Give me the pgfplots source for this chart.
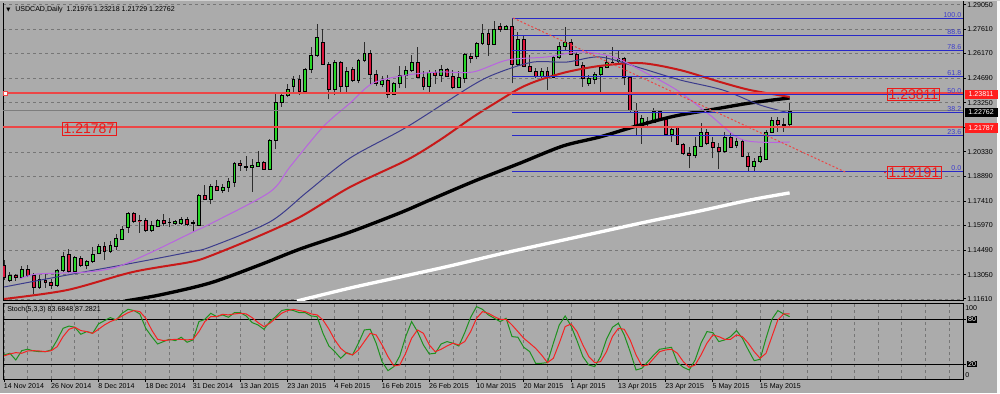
\documentclass[border=0pt]{standalone}
\usepackage{pgfplots}
\usepackage{pgfplotstable}
\pgfplotsset{compat=1.18}
\usepackage{fontspec}
\setmainfont{Liberation Sans}
\newfontfamily\symfont{DejaVu Sans}
\newcommand\sm{\fontsize{5.3}{6.4}\selectfont}
\newcommand\blk[1]{{\setlength{\fboxsep}{0.6pt}\colorbox{black}{\textcolor{white}{#1}}}}

\definecolor{bg}{RGB}{171,171,171}
\definecolor{gridc}{RGB}{118,118,118}
\definecolor{bull}{RGB}{40,215,40}
\definecolor{bear}{RGB}{220,20,60}
\definecolor{wick}{RGB}{45,45,45}
\definecolor{maRed}{RGB}{200,25,25}
\definecolor{maBlue}{RGB}{60,60,140}
\definecolor{maViolet}{RGB}{185,100,225}
\definecolor{hline}{RGB}{236,70,70}
\definecolor{fib}{RGB}{40,40,200}
\definecolor{fibtxt}{RGB}{60,60,205}
\definecolor{boxred}{RGB}{235,25,25}
\definecolor{lblred}{RGB}{255,30,30}
\definecolor{stK}{RGB}{30,145,30}
\definecolor{stD}{RGB}{245,35,35}
\definecolor{bidline}{RGB}{125,125,125}

\pgfplotstableread{
i o h l c
0 1.1362 1.1392 1.1273 1.1287
1 1.1273 1.1322 1.1263 1.1303
2 1.1303 1.1312 1.1269 1.1289
3 1.1289 1.1356 1.1283 1.1338
4 1.1338 1.1362 1.1289 1.1299
5 1.1303 1.1316 1.1190 1.1229
6 1.1229 1.1303 1.1223 1.1277
7 1.1273 1.1312 1.1229 1.1257
8 1.1257 1.1277 1.1223 1.1243
9 1.1243 1.1336 1.1233 1.1328
10 1.1328 1.1441 1.1322 1.1411
11 1.1425 1.1457 1.1316 1.1322
12 1.1322 1.1415 1.1316 1.1406
13 1.1402 1.1415 1.1352 1.1358
14 1.1358 1.1392 1.1336 1.1382
15 1.1382 1.1471 1.1376 1.1425
16 1.1431 1.1487 1.1427 1.1471
17 1.1471 1.1497 1.1392 1.1441
18 1.1441 1.1507 1.1435 1.1481
19 1.1475 1.1546 1.1451 1.1521
20 1.1515 1.1594 1.1511 1.1576
21 1.1584 1.1679 1.1551 1.1669
22 1.1669 1.1679 1.1614 1.1620
23 1.1626 1.1659 1.1555 1.1624
24 1.1624 1.1640 1.1560 1.1570
25 1.1566 1.1626 1.1560 1.1600
26 1.1594 1.1634 1.1586 1.1626
27 1.1626 1.1665 1.1594 1.1610
28 1.1616 1.1640 1.1586 1.1614
29 1.1612 1.1630 1.1600 1.1622
30 1.1610 1.1646 1.1600 1.1634
31 1.1634 1.1646 1.1594 1.1606
32 1.1610 1.1630 1.1560 1.1616
33 1.1600 1.1784 1.1594 1.1778
34 1.1774 1.1837 1.1748 1.1754
35 1.1752 1.1843 1.1722 1.1827
36 1.1827 1.1866 1.1803 1.1807
37 1.1803 1.1843 1.1791 1.1823
38 1.1823 1.1876 1.1797 1.1857
39 1.1851 1.1975 1.1827 1.1965
40 1.1965 1.1985 1.1922 1.1951
41 1.1946 1.2009 1.1920 1.1944
42 1.1942 1.1991 1.1797 1.1955
43 1.1949 1.2038 1.1945 1.1971
44 1.1971 1.1981 1.1930 1.1932
45 1.1930 1.2108 1.1930 1.2104
46 1.2104 1.2390 1.2050 1.2327
47 1.2327 1.2381 1.2302 1.2367
48 1.2367 1.2436 1.2357 1.2406
49 1.2424 1.2483 1.2390 1.2464
50 1.2464 1.2489 1.2371 1.2390
51 1.2390 1.2529 1.2377 1.2525
52 1.2525 1.2657 1.2499 1.2604
53 1.2604 1.2792 1.2598 1.2711
54 1.2683 1.2762 1.2549 1.2552
55 1.2552 1.2568 1.2345 1.2404
56 1.2404 1.2578 1.2371 1.2561
57 1.2561 1.2574 1.2385 1.2424
58 1.2420 1.2535 1.2381 1.2509
59 1.2525 1.2539 1.2450 1.2456
60 1.2456 1.2582 1.2440 1.2574
61 1.2574 1.2683 1.2564 1.2618
62 1.2618 1.2637 1.2436 1.2495
63 1.2495 1.2519 1.2424 1.2440
64 1.2436 1.2483 1.2416 1.2460
65 1.2460 1.2489 1.2355 1.2377
66 1.2375 1.2450 1.2371 1.2440
67 1.2440 1.2543 1.2410 1.2489
68 1.2489 1.2545 1.2410 1.2519
69 1.2515 1.2608 1.2509 1.2562
70 1.2562 1.2657 1.2469 1.2473
71 1.2475 1.2515 1.2400 1.2424
72 1.2424 1.2519 1.2375 1.2503
73 1.2505 1.2519 1.2436 1.2489
74 1.2489 1.2549 1.2450 1.2523
75 1.2523 1.2529 1.2479 1.2483
76 1.2483 1.2519 1.2404 1.2416
77 1.2416 1.2515 1.2410 1.2475
78 1.2469 1.2618 1.2444 1.2612
79 1.2602 1.2618 1.2558 1.2588
80 1.2598 1.2683 1.2582 1.2677
81 1.2677 1.2790 1.2667 1.2736
82 1.2736 1.2762 1.2602 1.2673
83 1.2673 1.2811 1.2667 1.2762
84 1.2780 1.2800 1.2746 1.2760
85 1.2760 1.2786 1.2756 1.2776
86 1.2776 1.2825 1.2440 1.2552
87 1.2552 1.2746 1.2543 1.2703
88 1.2703 1.2727 1.2535 1.2539
89 1.2543 1.2608 1.2509 1.2513
90 1.2513 1.2533 1.2469 1.2483
91 1.2483 1.2529 1.2469 1.2509
92 1.2509 1.2539 1.2400 1.2475
93 1.2475 1.2602 1.2469 1.2592
94 1.2592 1.2687 1.2582 1.2661
95 1.2661 1.2776 1.2637 1.2681
96 1.2681 1.2701 1.2608 1.2612
97 1.2612 1.2628 1.2543 1.2549
98 1.2549 1.2568 1.2420 1.2469
99 1.2440 1.2489 1.2426 1.2469
100 1.2465 1.2509 1.2434 1.2495
101 1.2495 1.2549 1.2371 1.2533
102 1.2533 1.2608 1.2529 1.2564
103 1.2562 1.2657 1.2558 1.2566
104 1.2568 1.2637 1.2562 1.2588
105 1.2588 1.2598 1.2430 1.2475
106 1.2475 1.2479 1.2272 1.2278
107 1.2282 1.2321 1.2133 1.2183
108 1.2177 1.2252 1.2080 1.2232
109 1.2203 1.2242 1.2173 1.2216
110 1.2208 1.2292 1.2203 1.2272
111 1.2272 1.2282 1.2222 1.2226
112 1.2226 1.2242 1.2133 1.2137
113 1.2137 1.2183 1.2094 1.2167
114 1.2179 1.2187 1.2074 1.2078
115 1.2078 1.2088 1.2015 1.2025
116 1.2025 1.2064 1.1936 1.2015
117 1.2011 1.2124 1.1995 1.2064
118 1.2064 1.2203 1.2060 1.2149
119 1.2147 1.2167 1.2074 1.2084
120 1.2090 1.2124 1.1995 1.2060
121 1.2060 1.2084 1.1932 1.2039
122 1.2035 1.2153 1.2029 1.2118
123 1.2118 1.2147 1.2054 1.2060
124 1.2070 1.2114 1.2054 1.2098
125 1.2098 1.2108 1.2005 1.2009
126 1.2009 1.2025 1.1922 1.1950
127 1.1950 1.1995 1.1916 1.1975
128 1.1975 1.2064 1.1969 1.2005
129 1.1989 1.2163 1.1985 1.2149
130 1.2149 1.2242 1.2143 1.2222
131 1.2222 1.2242 1.2153 1.2197
132 1.2199 1.2232 1.2153 1.2189
133 1.21976 1.23218 1.21729 1.22762
}\candles

\pgfplotstableread{
i k d
0 32.3 31.0
1 34.5 33.6
2 25.5 35.4
3 38.0 34.5
4 40.0 37.6
5 37.6 38.0
6 36.7 37.6
7 36.7 36.7
8 39.0 38.0
9 52.4 43.4
10 68.0 56.9
11 71.0 66.7
12 69.4 69.4
13 60.0 65.0
14 63.6 63.6
15 61.3 61.3
16 73.9 66.7
17 78.3 72.5
18 82.4 77.0
19 79.2 80.1
20 88.2 84.6
21 93.5 89.0
22 91.8 91.8
23 87.3 90.4
24 68.0 81.5
25 56.9 65.8
26 47.0 53.3
27 50.2 51.5
28 53.3 52.4
29 51.5 53.3
30 56.0 53.3
31 49.3 52.4
32 52.4 53.3
33 77.0 63.6
34 80.0 77.0
35 88.2 83.7
36 83.7 83.7
37 86.0 86.8
38 82.8 86.0
39 89.0 87.3
40 89.0 88.2
41 84.6 87.3
42 75.7 82.4
43 72.5 75.7
44 66.7 70.3
45 77.0 74.8
46 83.7 81.5
47 91.8 88.2
48 93.5 91.8
49 91.8 93.5
50 89.0 91.8
51 89.0 90.4
52 84.6 87.3
53 83.7 86.0
54 61.3 79.2
55 44.3 67.0
56 36.7 52.4
57 27.8 41.2
58 35.4 34.5
59 32.3 32.3
60 48.0 39.0
61 65.8 50.2
62 66.7 61.3
63 48.0 59.1
64 23.3 45.7
65 11.2 30.0
66 16.6 17.5
67 30.9 18.8
68 56.9 34.5
69 77.0 54.6
70 63.6 65.8
71 45.7 61.3
72 33.6 45.7
73 34.5 36.7
74 47.0 39.9
75 50.2 44.3
76 48.0 48.0
77 44.3 45.7
78 62.2 50.2
79 82.8 63.6
80 97.1 81.5
81 93.5 90.4
82 86.0 88.2
83 81.5 83.7
84 77.0 80.1
85 81.5 80.1
86 56.9 72.5
87 56.0 63.6
88 42.5 54.6
89 36.7 48.0
90 21.1 41.2
91 21.1 32.3
92 22.0 22.0
93 48.0 27.8
94 72.5 48.0
95 84.6 70.3
96 71.2 73.9
97 51.5 63.6
98 30.0 45.7
99 18.8 30.0
100 16.6 22.0
101 30.0 23.3
102 53.3 36.7
103 69.4 56.9
104 74.8 68.0
105 59.1 66.7
106 36.7 52.4
107 12.1 32.3
108 14.4 17.5
109 23.3 18.8
110 32.3 27.8
111 39.9 36.7
112 41.2 39.0
113 42.5 39.9
114 22.0 34.5
115 15.7 23.3
116 12.1 15.7
117 25.5 18.8
118 48.0 32.3
119 63.6 48.0
120 62.2 59.1
121 50.2 56.9
122 52.4 53.3
123 56.9 53.3
124 65.0 59.1
125 54.6 56.9
126 39.0 48.0
127 24.6 36.7
128 26.4 27.8
129 54.6 34.5
130 80.1 56.9
131 91.8 79.2
132 87.3 87.3
133 83.68 87.28
}\stoch

\begin{document}
\begin{tikzpicture}[x=1pt,y=1pt]
\fill[bg] (0,0) rectangle (750,294.75);
\fill[white!92!bg] (747.75,0) rectangle (750,294.75);

\begin{axis}[
  at={(2.25pt,69pt)}, anchor=south west,
  scale only axis, width=720pt, height=224.25pt,
  xmin=-0.17, xmax=162.35, ymin=1.1149, ymax=1.2922,
  clip mode=individual,
  axis line style={black, line width=0.75pt},
  xtick=\empty,
  minor xtick={4,8,...,160},
  xminorgrids=true,
  minor grid style={gridc, line width=0.6pt, dash pattern=on 2.25pt off 2.25pt},
  ytick={1.11610,1.13050,1.14490,1.15970,1.17410,1.18890,1.20330,1.21790,1.23250,1.24690,1.26170,1.27610,1.29050},
  yticklabels={1.11610,1.13050,1.14490,1.15970,1.17410,1.18890,1.20330,,1.23250,1.24690,1.26170,1.27610,1.29050},
  ymajorgrids=true,
  major grid style={gridc, line width=0.6pt, dash pattern=on 2.25pt off 2.25pt},
  ytick pos=right, yticklabel pos=right, tick align=outside,
  major tick length=2.25pt, minor tick length=0pt,
  every tick/.style={black, line width=0.75pt},
  yticklabel style={font=\sm, anchor=west, inner sep=0pt, xshift=0.75pt},
]
% candles
\pgfplotsforeachungrouped \k in {0,...,133}{%
  \pgfplotstablegetelem{\k}{o}\of\candles\let\co\pgfplotsretval
  \pgfplotstablegetelem{\k}{h}\of\candles\let\ch\pgfplotsretval
  \pgfplotstablegetelem{\k}{l}\of\candles\let\cl\pgfplotsretval
  \pgfplotstablegetelem{\k}{c}\of\candles\let\cc\pgfplotsretval
  \pgfmathsetmacro\xa{\k-0.24}%
  \pgfmathsetmacro\xb{\k+0.24}%
  \ifdim\cc pt>\co pt\def\bodycol{bull}\else\def\bodycol{bear}\fi
  \edef\tmp{%
    \noexpand\addplot[wick, line width=0.75pt] coordinates {(\k,\cl) (\k,\ch)};%
    \noexpand\addplot[fill=\bodycol, draw=black, line width=0.6pt] coordinates {(\xa,\co) (\xb,\co) (\xb,\cc) (\xa,\cc)} -- cycle;%
  }\tmp
}
% moving averages
\addplot[white, line width=2.5pt, smooth] coordinates {
(49.6,1.1149) (58.6,1.1226) (67.0,1.1291) (75.5,1.1357) (84.0,1.1428) (92.4,1.1493)
(100.9,1.1558) (109.4,1.1623) (117.8,1.1683) (126.3,1.1748) (133.0,1.1790)};
\addplot[black, line width=2.5pt, smooth] coordinates {
(20.5,1.1149) (26.4,1.1185) (34.9,1.1256) (43.3,1.1363) (50.1,1.1457) (58.6,1.1558)
(67.0,1.1671) (72.1,1.1748) (79.7,1.1861) (87.4,1.1967) (94.6,1.2068) (100.9,1.2122)
(107.7,1.2193) (113.6,1.2246) (119.5,1.2282) (126.3,1.2323) (133.0,1.2353)};
\addplot[maRed, line width=1.5pt, smooth] coordinates {
(0,1.1161) (10.7,1.1214) (21.8,1.1321) (31.5,1.1380) (34.9,1.1416) (42.8,1.1529)
(50.1,1.1647) (58.6,1.1825) (68.2,1.1985) (73.8,1.2104) (79.4,1.2240) (84.0,1.2341)
(87.4,1.2412) (90.7,1.2460) (95.3,1.2507) (100.9,1.2543) (107.7,1.2560) (114.4,1.2519)
(121.2,1.2448) (126.3,1.2400) (133.0,1.2359)};
\addplot[maBlue, line width=0.75pt, smooth] coordinates {
(0,1.1232) (10.7,1.1303) (21.8,1.1374) (31.5,1.1440) (34.9,1.1469) (45.0,1.1618)
(51.3,1.1795) (58.6,1.1997) (68.2,1.2181) (79.4,1.2430) (84.0,1.2507) (89.6,1.2566)
(95.3,1.2566) (100.9,1.2596) (107.7,1.2531) (114.4,1.2460) (121.7,1.2400) (128.0,1.2311)
(133.0,1.2264)};
\addplot[maViolet, line width=0.75pt, smooth] coordinates {
(2.7,1.1280) (5.6,1.1309) (14.1,1.1321) (19.1,1.1351) (24.7,1.1434) (32.0,1.1558)
(34.9,1.1606) (45.0,1.1795) (48.4,1.1944) (54.0,1.2181) (58.6,1.2323) (62.5,1.2442)
(68.2,1.2489) (73.8,1.2507) (79.4,1.2507) (85.2,1.2578) (91.9,1.2596) (97.5,1.2626)
(103.1,1.2596) (107.7,1.2519) (113.9,1.2400) (119.5,1.2252) (125.1,1.2104) (133.0,1.2092)};
% bid line
\addplot[bidline, line width=0.75pt] coordinates {(-0.17,1.22762) (162.35,1.22762)};
% fibonacci levels
\addplot[fib, line width=0.75pt] coordinates {(86,1.2827) (162.35,1.2827)};
\addplot[fib, line width=0.75pt] coordinates {(86,1.2724) (162.35,1.2724)};
\addplot[fib, line width=0.75pt] coordinates {(86,1.2633) (162.35,1.2633)};
\addplot[fib, line width=0.75pt] coordinates {(86,1.2480) (162.35,1.2480)};
\addplot[fib, line width=0.75pt] coordinates {(86,1.2373) (162.35,1.2373)};
\addplot[fib, line width=0.75pt] coordinates {(86,1.2266) (162.35,1.2266)};
\addplot[fib, line width=0.75pt] coordinates {(86,1.2133) (162.35,1.2133)};
\addplot[fib, line width=0.75pt] coordinates {(86,1.1919) (162.35,1.1919)};
% horizontal lines
\addplot[hline, line width=1.3pt] coordinates {(-0.17,1.23811) (162.35,1.23811)};
\addplot[hline, line width=1.3pt] coordinates {(-0.17,1.21787) (162.35,1.21787)};
\addplot[only marks, mark=square*, mark size=1.3pt, mark options={fill=white, draw=hline, line width=0.6pt}] coordinates {(0.2,1.23811)};
% trendline
\addplot[hline, line width=0.75pt, dash pattern=on 1.5pt off 1.5pt] coordinates {(86.2,1.2827) (142.4,1.1914)};
% fib labels
\node[anchor=south east, inner sep=0.5pt, font=\sm, text=fibtxt] at (axis cs:162.2,1.2827) {100.0};
\node[anchor=south east, inner sep=0.5pt, font=\sm, text=fibtxt] at (axis cs:162.2,1.2724) {88.6};
\node[anchor=south east, inner sep=0.5pt, font=\sm, text=fibtxt] at (axis cs:162.2,1.2633) {78.6};
\node[anchor=south east, inner sep=0.5pt, font=\sm, text=fibtxt] at (axis cs:162.2,1.2480) {61.8};
\node[anchor=south east, inner sep=0.5pt, font=\sm, text=fibtxt] at (axis cs:162.2,1.2373) {50.0};
\node[anchor=south east, inner sep=0.5pt, font=\sm, text=fibtxt] at (axis cs:162.2,1.2266) {38.2};
\node[anchor=south east, inner sep=0.5pt, font=\sm, text=fibtxt] at (axis cs:162.2,1.2133) {23.6};
\node[anchor=south east, inner sep=0.5pt, font=\sm, text=fibtxt] at (axis cs:162.2,1.1919) {0.0};
\end{axis}

\begin{axis}[
  at={(2.25pt,10.5pt)}, anchor=south west,
  scale only axis, width=720pt, height=56.625pt,
  xmin=-0.17, xmax=162.35, ymin=0, ymax=101.3,
  clip mode=individual,
  axis line style={black, line width=0.75pt},
  xtick={0,8,...,128},
  xticklabels={14 Nov 2014,26 Nov 2014,8 Dec 2014,18 Dec 2014,31 Dec 2014,13 Jan 2015,23 Jan 2015,4 Feb 2015,16 Feb 2015,26 Feb 2015,10 Mar 2015,20 Mar 2015,1 Apr 2015,13 Apr 2015,23 Apr 2015,5 May 2015,15 May 2015},
  minor xtick={4,12,20,28,36,44,52,60,68,76,84,92,100,108,116,124,132,136,140,144,148,152,156,160},
  xmajorgrids=true, xminorgrids=true,
  major grid style={gridc, line width=0.6pt, dash pattern=on 2.25pt off 2.25pt},
  minor grid style={gridc, line width=0.6pt, dash pattern=on 2.25pt off 2.25pt},
  xtick pos=left, ytick pos=right, yticklabel pos=right,
  ytick={20,80}, yticklabels={\blk{20},\blk{80}},
  tick align=outside, major tick length=2.25pt, minor tick length=0pt,
  every tick/.style={black, line width=0.75pt},
  xticklabel style={font=\sm, anchor=north west, inner sep=0pt, xshift=-0.3pt, yshift=-0.8pt},
  yticklabel style={font=\sm, anchor=west, inner sep=0pt, xshift=0.75pt},
]
\addplot[black, line width=0.75pt] coordinates {(-0.17,80) (162.35,80)};
\addplot[black, line width=0.75pt] coordinates {(-0.17,20) (162.35,20)};
\addplot[stK, line width=0.75pt] table[x=i, y=k] {\stoch};
\addplot[stD, line width=0.75pt] table[x=i, y=d] {\stoch};
\end{axis}

% top edge: no black border, light window edge instead
\draw[bg, line width=1.2pt] (1.5pt,293.25pt) -- (721.9pt,293.25pt);
\draw[white!45!bg, line width=0.75pt] (0pt,294.3pt) -- (750pt,294.3pt);

% header texts
\node[anchor=west, inner sep=0pt] at (4.6pt,287.3pt) {\symfont\fontsize{4}{4}\selectfont ▼};
\node[anchor=west, inner sep=0pt, font=\sm] at (11.25pt,287.25pt) {USDCAD,Daily\ \ 1.21976 1.23218 1.21729 1.22762};
\node[anchor=west, inner sep=0pt, font=\sm] at (5.25pt,62.25pt) {Stoch(5,3,3) 83.6848 87.2821};

% line label boxes
\node[draw=boxred, line width=0.6pt, text=boxred, inner xsep=1.2pt, inner ysep=1pt, font=\fontsize{10.5}{11}\selectfont] at (66.75pt,198pt) {1.21787};
\node[draw=boxred, line width=0.6pt, text=boxred, inner xsep=1.2pt, inner ysep=1pt, font=\fontsize{10.5}{11}\selectfont] at (685.1pt,223.9pt) {1.23811};
\node[draw=boxred, line width=0.6pt, text=boxred, inner xsep=1.2pt, inner ysep=1pt, font=\fontsize{10.5}{11}\selectfont] at (685.5pt,165.4pt) {1.19191};
\fill[boxred] (663.75pt,165.4pt) circle (0.6pt);

% right price labels
\node[anchor=west, fill=lblred, text=white, font=\sm, inner sep=0pt, minimum width=24.75pt, minimum height=6.9pt] at (723.2pt,223.9pt) {1.23811};
\node[anchor=west, fill=black, text=white, font=\sm, inner sep=0pt, minimum width=24.75pt, minimum height=6.9pt] at (723.2pt,210.4pt) {1.22762};
\node[anchor=west, fill=lblred, text=white, font=\sm, inner sep=0pt, minimum width=24.75pt, minimum height=6.9pt] at (723.2pt,198.75pt) {1.21787};
\node[anchor=west, inner sep=0pt, font=\sm] at (723.75pt,63.75pt) {100};
\node[anchor=west, inner sep=0pt, font=\sm] at (723.75pt,13.5pt) {0};

\pgfresetboundingbox
\path (0,0) rectangle (750pt,294.75pt);
\end{tikzpicture}
\end{document}
